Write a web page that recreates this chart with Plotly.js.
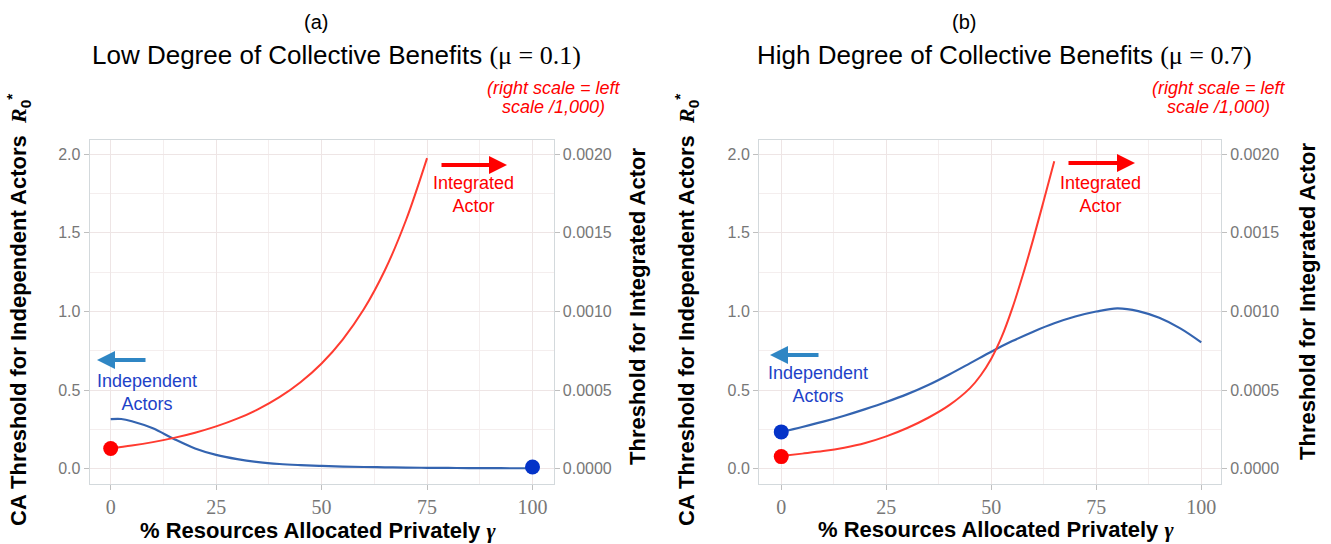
<!DOCTYPE html>
<html>
<head>
<meta charset="utf-8">
<script src="https://cdn.plot.ly/plotly-3.0.1.min.js"></script>
<style>html,body{margin:0;padding:0;background:#fff;}#chart{width:1331px;height:544px;}</style>
</head>
<body>
<div id="chart"></div>
<script>
// ---------- data ----------
// Panel (a): mu = 0.1
const gammaA_indep = [0,2.5,5,10,15,20,25,30,35,40,45,50,55,60,65,70,75,80,85,90,95,100];
const indepA = [0.316,0.317,0.303,0.258,0.19,0.13,0.089,0.062,0.043,0.031,0.024,0.019,0.015,0.012,0.010,0.008,0.007,0.006,0.005,0.005,0.004,0.004];
const gammaA_integ = [0,5,10,15,20,25,30,35,40,45,50,55,60,65,70,75];
const integA = [0.000130,0.000148,0.000170,0.000197,0.000230,0.000270,0.000319,0.000380,0.000456,0.000551,0.000670,0.000822,0.001014,0.001262,0.001580,0.001975];
const pointA_indep = {x:[100], y:[0.012]};
const pointA_integ = {x:[0], y:[0.00013]};

// Panel (b): mu = 0.7
const gammaB_indep = [0,5,10,15,20,25,30,35,40,45,50,55,60,65,70,75,80,85,90,95,100];
const indepB = [0.234,0.266,0.3,0.338,0.38,0.425,0.475,0.533,0.6,0.672,0.745,0.812,0.872,0.925,0.968,1.0,1.02,1.003,0.96,0.893,0.804];
const gammaB_integ = [0,5,10,15,20,25,30,35,40,45,47.5,50,52.5,55,57.5,60,62.5,65];
const integB = [0.000082,0.000097,0.000113,0.000135,0.000165,0.000207,0.00026,0.000325,0.000405,0.000515,0.000595,0.0007,0.00084,0.00102,0.00123,0.00146,0.001705,0.001955];
const pointB_indep = {x:[0], y:[0.235]};
const pointB_integ = {x:[0], y:[0.000078]};

const xTicks = [0,25,50,75,100];
const yTicksLeft = [0,0.5,1,1.5,2];
const yTicksRight = [0,0.0005,0.001,0.0015,0.002];

const panelTitles = ['Low Degree of Collective Benefits', 'High Degree of Collective Benefits'];
const muValues = ['0.1','0.7'];
const panelTags = ['(a)','(b)'];

// ---------- styles ----------
const RED_LINE = '#ff3b30', RED = '#ff0000', BLUE_LINE = '#3464b0', BLUE_PT = '#0433c8';
const BLUE_ARROW = '#2f86c4', BLUE_TEXT = '#1d42c8';
const GRID = '#eee5e5', MINOR = '#f4eeee', BORDER = '#d3d9dc', TICKC = '#bfbfbf', TICKFONT = '#777777';
const W = 1331, H = 544;
const px = v => v / W, py = v => 1 - v / H;

function lineTrace(x, y, color, width, xa, ya) {
  return {x, y, type:'scatter', mode:'lines', line:{color, width, shape:'spline', smoothing:1}, xaxis:xa, yaxis:ya, hoverinfo:'skip'};
}
function ptTrace(p, color, xa, ya) {
  return {x:p.x, y:p.y, type:'scatter', mode:'markers', marker:{color, size:15}, xaxis:xa, yaxis:ya, hoverinfo:'skip', cliponaxis:false};
}

const data = [
  lineTrace(gammaA_integ, integA, RED_LINE, 2, 'x', 'y2'),
  lineTrace(gammaA_indep, indepA, BLUE_LINE, 2.2, 'x', 'y'),
  ptTrace(pointA_integ, RED, 'x', 'y2'),
  ptTrace(pointA_indep, BLUE_PT, 'x', 'y'),
  lineTrace(gammaB_integ, integB, RED_LINE, 2, 'x2', 'y4'),
  lineTrace(gammaB_indep, indepB, BLUE_LINE, 2.2, 'x2', 'y3'),
  ptTrace(pointB_integ, RED, 'x2', 'y4'),
  ptTrace(pointB_indep, BLUE_PT, 'x2', 'y3')
];

const yDom = [py(484), py(140)];
const yRange = [-0.096, 2.09];
function xAxis(domain, range, anchor) {
  return {domain, range, anchor, tickvals:xTicks, ticktext:xTicks.map(String), ticks:'outside', ticklen:5, tickcolor:TICKC,
    tickfont:{family:'Liberation Serif', size:20, color:TICKFONT}, showgrid:true, gridcolor:GRID, gridwidth:1,
    minor:{showgrid:true, gridcolor:MINOR, dtick:12.5, tick0:0, ticks:''},
    showline:true, mirror:true, linecolor:BORDER, linewidth:1, zeroline:false, fixedrange:true};
}
function yLeft(anchor) {
  return {domain:yDom, range:yRange, anchor, tickvals:yTicksLeft, tickformat:'.1f', ticks:'outside', ticklen:5, tickcolor:TICKC,
    tickfont:{family:'Liberation Sans', size:16, color:TICKFONT}, showgrid:true, gridcolor:GRID, gridwidth:1,
    minor:{showgrid:true, gridcolor:MINOR, dtick:0.25, tick0:0, ticks:''},
    showline:true, mirror:true, linecolor:BORDER, linewidth:1, zeroline:false, fixedrange:true};
}
function yRight(anchor, over) {
  return {domain:yDom, range:yRange.map(v=>v/1000), anchor, overlaying:over, side:'right', tickvals:yTicksRight, tickformat:'.4f',
    ticks:'outside', ticklen:5, tickcolor:TICKC, tickfont:{family:'Liberation Sans', size:16, color:TICKFONT},
    showgrid:false, showline:false, zeroline:false, fixedrange:true};
}

const SERIF = 'font-family:Liberation Serif';
function txt(x, y, text, size, color, extra) {
  return Object.assign({xref:'paper', yref:'paper', x:px(x), y:py(y), xanchor:'center', yanchor:'middle', text, showarrow:false,
    font:{family:'Liberation Sans', size, color}}, extra || {});
}
function arrow(xHead, y, dx, color, width) {
  return {xref:'paper', yref:'paper', x:px(xHead), y:py(y), ax:dx, ay:0, text:'', showarrow:true,
    arrowhead:2, arrowsize:0.9, arrowwidth:width, arrowcolor:color, standoff:0};
}
const yTitleLeft = '<b>CA Threshold for Independent Actors</b>  <span style="' + SERIF + '"><b><i>R</i></b></span><sub><b>0</b></sub><sup><b>*</b></sup>';
const yTitleRight = '<b>Threshold for Integrated Actor</b>';
const xTitle = '<b>% Resources Allocated Privately </b><span style="' + SERIF + '"><b><i>γ</i></b></span>';
function mainTitle(i) { return panelTitles[i] + ' <span style="' + SERIF + '">(μ = ' + muValues[i] + ')</span>'; }

const annotations = [
  // panel (a)
  txt(316, 22, panelTags[0], 20, '#000'),
  txt(336, 55, mainTitle(0), 26, '#000'),
  txt(553.5, 88, '<i>(right scale = left</i>', 18, RED),
  txt(553.5, 107, '<i>scale /1,000)</i>', 18, RED),
  arrow(507, 165, -67, RED, 4),
  txt(473.5, 194.5, 'Integrated<br>Actor', 18, RED),
  arrow(97, 360, 50, BLUE_ARROW, 4),
  txt(147, 392.5, 'Independent<br>Actors', 18, BLUE_TEXT),
  txt(318, 530, xTitle, 22, '#000'),
  txt(18, 310, yTitleLeft, 22, '#000', {textangle:-90}),
  txt(637, 307, yTitleRight, 22, '#000', {textangle:-90}),
  // panel (b)
  txt(964, 22, panelTags[1], 20, '#000'),
  txt(1004.5, 55, mainTitle(1), 26, '#000'),
  txt(1218.5, 88, '<i>(right scale = left</i>', 18, RED),
  txt(1218.5, 107, '<i>scale /1,000)</i>', 18, RED),
  arrow(1135, 163, -68, RED, 4),
  txt(1100.7, 194, 'Integrated<br>Actor', 18, RED),
  arrow(770, 355, 50, BLUE_ARROW, 4),
  txt(817.5, 384, 'Independent<br>Actors', 18, BLUE_TEXT),
  txt(996, 529, xTitle, 22, '#000'),
  txt(686, 310, yTitleLeft, 22, '#000', {textangle:-90}),
  txt(1307, 302, yTitleRight, 22, '#000', {textangle:-90})
];

const layout = {
  width:W, height:H, margin:{l:0, r:0, t:0, b:0}, paper_bgcolor:'#fff', plot_bgcolor:'#fff', showlegend:false,
  xaxis: xAxis([px(89.6), px(553.6)], [-5, 105], 'y'),
  yaxis: yLeft('x'),
  yaxis2: yRight('x', 'y'),
  xaxis2: xAxis([px(759), px(1221)], [-5.3, 104.7], 'y3'),
  yaxis3: yLeft('x2'),
  yaxis4: yRight('x2', 'y3'),
  annotations
};

Plotly.newPlot('chart', data, layout, {staticPlot:true, displayModeBar:false});
</script>
</body>
</html>
